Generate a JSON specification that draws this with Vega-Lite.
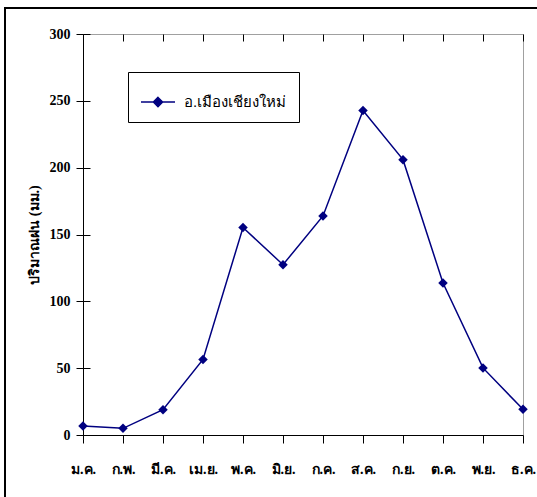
{
  "$schema": "https://vega.github.io/schema/vega-lite/v6.json",
  "autosize": {"type": "none"},
  "width": 440,
  "height": 401,
  "padding": {"left": 83, "top": 34, "right": 14, "bottom": 62},
  "background": "white",
  "config": {
    "view": {"stroke": "#a0a0a0", "strokeWidth": 1},
    "axis": {
      "domainColor": "black",
      "tickColor": "black",
      "labelColor": "black",
      "labelFont": "Liberation Serif",
      "labelFontWeight": "bold",
      "labelFontSize": 14,
      "titleFont": "Liberation Serif",
      "titleFontWeight": "bold",
      "titleFontSize": 14,
      "titleColor": "black"
    }
  },
  "data": {
    "values": [
      {"m": 1, "month": "ม.ค.", "rain": 6.7},
      {"m": 2, "month": "ก.พ.", "rain": 5.0},
      {"m": 3, "month": "มี.ค.", "rain": 18.9},
      {"m": 4, "month": "เม.ย.", "rain": 56.5},
      {"m": 5, "month": "พ.ค.", "rain": 155.2},
      {"m": 6, "month": "มิ.ย.", "rain": 127.4},
      {"m": 7, "month": "ก.ค.", "rain": 163.9},
      {"m": 8, "month": "ส.ค.", "rain": 242.8},
      {"m": 9, "month": "ก.ย.", "rain": 206.0},
      {"m": 10, "month": "ต.ค.", "rain": 113.7},
      {"m": 11, "month": "พ.ย.", "rain": 50.2},
      {"m": 12, "month": "ธ.ค.", "rain": 19.2}
    ]
  },
  "resolve": {"axis": {"x": "independent", "y": "independent"}},
  "layer": [
    {
      "mark": {"type": "line", "strokeWidth": 1.5, "point": {"shape": "diamond", "size": 90, "filled": true}},
      "encoding": {
        "x": {
          "field": "m",
          "type": "quantitative",
          "scale": {"domain": [1, 12], "nice": false, "zero": false},
          "axis": {
            "title": null,
            "values": [1, 2, 3, 4, 5, 6, 7, 8, 9, 10, 11, 12],
            "labelExpr": "['ม.ค.','ก.พ.','มี.ค.','เม.ย.','พ.ค.','มิ.ย.','ก.ค.','ส.ค.','ก.ย.','ต.ค.','พ.ย.','ธ.ค.'][datum.value-1]",
            "tickSize": 8,
            "labelPadding": 19,
            "labelFlush": false,
            "labelOverlap": false,
            "labelBound": false,
            "grid": true,
            "gridColor": "black",
            "gridDash": [7, 2000]
          }
        },
        "y": {
          "field": "rain",
          "type": "quantitative",
          "scale": {"domain": [0, 300], "nice": false},
          "axis": {
            "title": "ปริมาณฝน (มม.)",
            "values": [0, 50, 100, 150, 200, 250, 300],
            "tickSize": 7,
            "labelPadding": 6,
            "titlePadding": 8,
            "grid": true,
            "gridColor": "black",
            "gridDash": [7, 2000]
          }
        },
        "color": {
          "datum": "อ.เมืองเชียงใหม่",
          "type": "nominal",
          "scale": {"range": ["#000080"]},
          "legend": {
            "title": null,
            "orient": "none",
            "legendX": 45,
            "legendY": 38,
            "strokeColor": "black",
            "fillColor": "white",
            "padding": 12,
            "symbolType": "M-1,0H1M0,-0.27L0.27,0L0,0.27L-0.27,0Z",
            "symbolSize": 1156,
            "symbolStrokeWidth": 1.5,
            "symbolFillColor": "#000080",
            "symbolStrokeColor": "#000080",
            "labelFontSize": 15,
            "labelColor": "black",
            "labelOffset": 8
          }
        }
      }
    },
    {
      "mark": {"type": "rect", "fill": null, "filled": false, "stroke": "black", "strokeWidth": 2, "clip": false},
      "encoding": {
        "x": {"datum": -0.95, "type": "quantitative", "axis": null},
        "x2": {"datum": 13.5},
        "y": {"datum": 319.4, "type": "quantitative", "axis": null},
        "y2": {"datum": -80}
      }
    }
  ]
}
